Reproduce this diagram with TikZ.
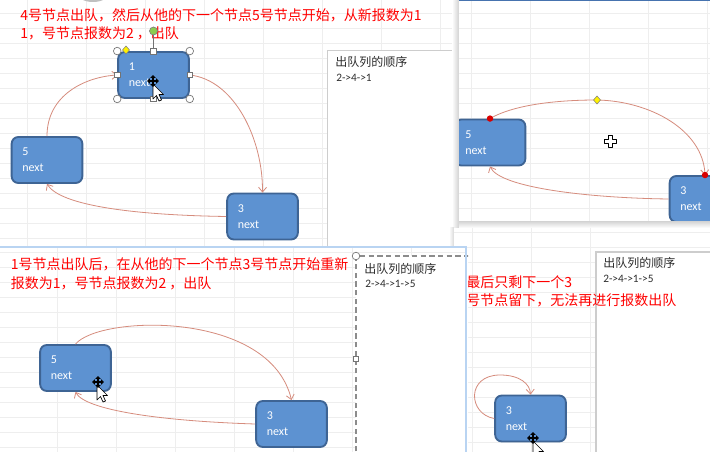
\documentclass[tikz,border=0pt]{standalone}
\usepackage{fontspec}
\setmainfont{Carlito}
\newfontfamily\cjk{Noto Sans CJK SC}
\usetikzlibrary{arrows.meta,calc}
\definecolor{nodefill}{RGB}{93,146,209}
\definecolor{nodeline}{RGB}{62,100,148}
\definecolor{linkc}{RGB}{214,140,125}
\definecolor{gridc}{RGB}{238,238,238}
\definecolor{boxline}{RGB}{205,205,205}
\definecolor{txtgray}{RGB}{45,45,45}
\definecolor{glow}{RGB}{185,212,242}
\definecolor{topblue}{RGB}{70,115,175}
\definecolor{rotgreen}{RGB}{140,205,80}
\begin{document}
\begin{tikzpicture}[x=0.75pt,y=-0.75pt,
  nodebox/.style={draw=nodeline, line width=1.4pt, fill=nodefill, rounded corners=5pt,
    minimum width=53pt, minimum height=34.5pt, text=white, font=\fontsize{9}{12}\selectfont,
    align=left, text width=37pt, inner sep=0pt},
  link/.style={draw=linkc, line width=0.6pt, -{Straight Barb[length=3.5pt,width=6pt]}},
  gridline/.style={draw=gridc, line width=0.6pt},
  redtxt/.style={text=red, font=\cjk\fontsize{10.5}{13}\selectfont, anchor=west, inner sep=0pt},
  sidehead/.style={text=txtgray, font=\cjk\fontsize{9}{11}\selectfont, anchor=west, inner sep=0pt},
  sideseq/.style={text=txtgray, font=\fontsize{8.5}{10}\selectfont, anchor=west, inner sep=0pt},
  handlec/.style={draw=black!55, fill=white, line width=0.5pt},
  pointer/.pic={\draw[black, fill=white, line width=0.5pt, line join=round]
      (0,0) -- (0,15) -- (3.5,11.5) -- (6,17) -- (8.5,16) -- (6,10.5) -- (10.5,10.5) -- cycle;},
  movecross/.pic={\draw[black, line width=1.1pt, {Triangle[length=2.2pt,width=4pt]}-{Triangle[length=2.2pt,width=4pt]}] (-6,0) -- (6,0);
      \draw[black, line width=1.1pt, {Triangle[length=2.2pt,width=4pt]}-{Triangle[length=2.2pt,width=4pt]}] (0,-6) -- (0,6);}
]
\useasboundingbox (0,0) rectangle (710,452);
\fill[white] (0,0) rectangle (710,452);

%% ---------------- Panel 1 ----------------
\begin{scope}
\clip (0,0) rectangle (459,246);
\foreach \x in {27,86,...,450} \draw[gridline] (\x,0) -- (\x,246);
\foreach \y in {13,28,...,245} \draw[gridline] (0,\y) -- (459,\y);
\fill[black!25] (93,-7) ellipse (16 and 9);
\fill[white] (327.5,50.5) rectangle (470,260);
\draw[boxline, line width=0.8pt] (327.5,260) -- (327.5,50.5) -- (470,50.5);
\node[sidehead] (p1head) at (335,62) {出队列的顺序};
\node[sideseq] (p1seq) at (336,78) {2->4->1};
\node[redtxt] (p1t1) at (20,15) {4号节点出队，然后从他的下一个节点5号节点开始，从新报数为1};
\node[redtxt] (p1t2) at (20,33) {1，号节点报数为2 ，出队};
\node[nodebox] (p1n1) at (153.5,75) {1\\next};
\node[nodebox] (p1n5) at (47,160) {5\\next};
\node[nodebox] (p1n3) at (262.5,216.5) {3\\next};
\draw[link] (p1n5.north) .. controls (47,95) and (85,77) .. (p1n1.west);
\draw[link] (p1n1.east) .. controls (235,80) and (263,140) .. (p1n3.north);
\draw[link] (p1n3.west) .. controls (130,215) and (60,205) .. (p1n5.south);
% selection handles
\draw[black!55, line width=0.5pt] (p1n1.north) -- (153.5,35);
\draw[draw=black!50, fill=rotgreen, line width=0.5pt] (153.5,31) circle (4);
\foreach \a in {north west, north east, south west, south east}
  \draw[handlec] (p1n1.\a) circle (3.8);
\foreach \a in {north, south, west, east}
  \draw[handlec] ($(p1n1.\a)+(-2.8,-2.8)$) rectangle ++(5.6,5.6);
\draw[draw=black!50, fill=yellow, line width=0.4pt] (126,46) -- (129.5,50) -- (126,54) -- (122.5,50) -- cycle;
\pic at (153,84) {pointer};
\pic at (153,81) {movecross};
\end{scope}

%% ---------------- Panel 2 ----------------
\shade[left color=white, right color=black!18] (452,0) rectangle (459,229);
\begin{scope}
\clip (459,0) rectangle (710,226);
\fill[white] (459,0) rectangle (710,226);
\foreach \x in {471,530,...,710} \draw[gridline] (\x,0) -- (\x,226);
\foreach \y in {13,28,...,226} \draw[gridline] (459,\y) -- (710,\y);
\draw[topblue, line width=1.5pt] (459,0.5) -- (710,0.5);
\node[nodebox] (p2n5) at (490,142.5) {5\\next};
\node[nodebox] (p2n3) at (705,199) {3\\next};
\coordinate (p2mid) at (597,100);
\draw[link] (p2n5.north) .. controls (515,104) and (560,100) .. (p2mid)
  .. controls (650,101) and (703,130) .. (p2n3.north);
\draw[link] (p2n3.west) .. controls (590,198) and (500,188) .. (p2n5.south);
\fill[red!85!black] (p2n5.north) circle (3.2);
\fill[red!85!black] (p2n3.north) circle (3.2);
\draw[draw=black!50, fill=yellow, line width=0.4pt] (597,96) -- (600.5,100) -- (597,104) -- (593.5,100) -- cycle;
\draw[black, fill=white, line width=0.7pt, line join=round] (608,135) -- (612,135) -- (612,139) -- (616,139) -- (616,143) -- (612,143) -- (612,147) -- (608,147) -- (608,143) -- (604,143) -- (604,139) -- (608,139) -- cycle;
\end{scope}
\shade[top color=black!15, bottom color=white] (459,222) rectangle (710,228);

%% ---------------- Panel 4 ----------------
\shade[left color=white, right color=black!15] (449,228) rectangle (454,452);
\begin{scope}
\clip (454,228) rectangle (710,452);
\fill[white] (454,228) rectangle (710,452);
\foreach \x in {472,531,590} \draw[gridline] (\x,228) -- (\x,452);
\foreach \y in {232,247,...,452} \draw[gridline] (454,\y) -- (710,\y);
\fill[white] (596,252) rectangle (715,460);
\draw[boxline, line width=0.8pt] (596,460) -- (596,252) -- (715,252);
\node[sidehead] (p4head) at (603,263) {出队列的顺序};
\node[sideseq] (p4seq) at (603,279) {2->4->1->5};
\node[redtxt] (p4t1) at (466,282) {最后只剩下一个3};
\node[redtxt] (p4t2) at (466,300) {号节点留下，无法再进行报数出队};
\node[nodebox] (p4n3) at (530.5,418.5) {3\\next};
\draw[link] (p4n3.west) .. controls (468,414) and (466,375) .. (500,375)
  .. controls (520,375) and (530,384) .. (p4n3.north);
\pic at (533,441) {pointer};
\pic at (533,438) {movecross};
\end{scope}

%% ---------------- Panel 3 ----------------
\begin{scope}
\clip (0,246) rectangle (468,452);
\fill[white] (0,247) rectangle (466,452);
\foreach \x in {57,116,...,466} \draw[gridline] (\x,247) -- (\x,452);
\foreach \y in {252,267,...,452} \draw[gridline] (0,\y) -- (466,\y);
\fill[white] (356,256) rectangle (470,460);
\draw[black!45, line width=1.1pt, dash pattern=on 4pt off 2.5pt] (356,460) -- (356,256) -- (470,256);
\node[sidehead] (p3head) at (364,269) {出队列的顺序};
\node[sideseq] (p3seq) at (365,284) {2->4->1->5};
\draw[handlec] (356,256) circle (3.8);
\draw[handlec] (353.2,356.2) rectangle ++(5.6,5.6);
\node[redtxt] (p3t1) at (10.5,264) {1号节点出队后，在从他的下一个节点3号节点开始重新};
\node[redtxt] (p3t2) at (10.5,283) {报数为1，号节点报数为2 ，出队};
\node[nodebox] (p3n5) at (75.5,368) {5\\next};
\node[nodebox] (p3n3) at (291.5,424) {3\\next};
\draw[link] (p3n5.north) .. controls (100,315) and (270,310) .. (p3n3.north);
\draw[link] (p3n3.west) .. controls (160,421) and (85,410) .. (p3n5.south);
\pic at (97,385) {pointer};
\pic at (98,382) {movecross};
\draw[glow, line width=2pt] (0,247) -- (466,247) -- (466,452);
\end{scope}
\end{tikzpicture}
\end{document}
